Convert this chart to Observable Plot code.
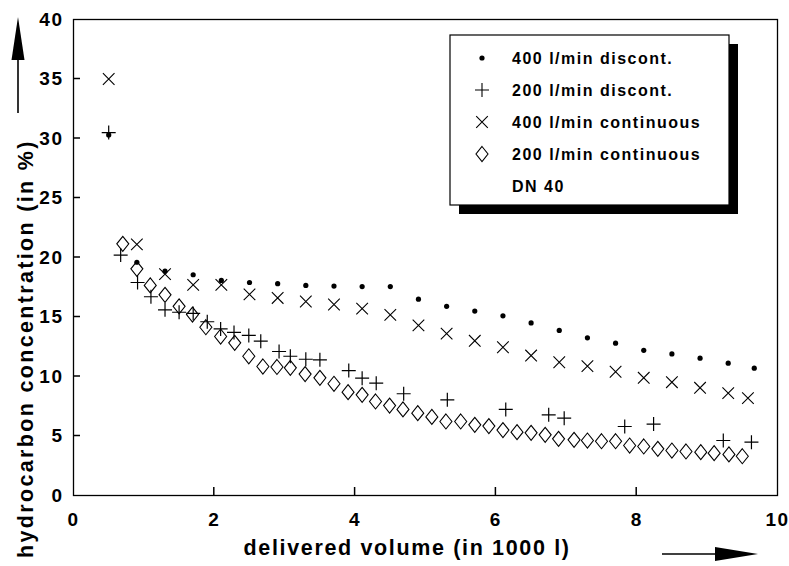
<!DOCTYPE html>
<html><head><meta charset="utf-8">
<script src="https://cdn.jsdelivr.net/npm/d3@7"></script>
<script src="https://cdn.jsdelivr.net/npm/@observablehq/plot@0.6"></script>
<style>
html,body{margin:0;padding:0;background:#fff}
svg{display:block}
svg text{letter-spacing:1.5px}
</style>
</head><body><div id="chart"></div>
<script>
// ---- data ----
const seriesNames = ["400 l/min discont.", "200 l/min discont.", "400 l/min continuous", "200 l/min continuous"];
const legendNote = "DN 40";

const disc400X = [0.5, 0.9, 1.3, 1.7, 2.1, 2.5, 2.9, 3.3, 3.7, 4.1, 4.5, 4.9, 5.3, 5.7, 6.1, 6.5, 6.9, 7.3, 7.7, 8.1, 8.5, 8.9, 9.3, 9.67];
const disc400Y = [30.3, 19.6, 18.85, 18.55, 18.07, 17.9, 17.8, 17.65, 17.6, 17.56, 17.56, 16.5, 15.9, 15.5, 15.1, 14.5, 13.87, 13.25, 12.8, 12.2, 11.9, 11.54, 11.12, 10.7];

const disc200X = [0.5, 0.67, 0.91, 1.1, 1.3, 1.5, 1.7, 1.9, 2.09, 2.28, 2.49, 2.66, 2.92, 3.08, 3.3, 3.5, 3.91, 4.1, 4.3, 4.69, 5.31, 6.14, 6.75, 6.97, 7.83, 8.24, 9.23, 9.63];
const disc200Y = [30.5, 20.2, 17.9, 16.7, 15.6, 15.4, 15.3, 14.6, 14.0, 13.7, 13.45, 12.97, 12.1, 11.7, 11.45, 11.4, 10.5, 9.86, 9.44, 8.55, 8.04, 7.23, 6.78, 6.5, 5.8, 6.0, 4.62, 4.48];

const cont400X = [0.5, 0.9, 1.3, 1.7, 2.1, 2.5, 2.9, 3.3, 3.7, 4.1, 4.5, 4.9, 5.3, 5.7, 6.1, 6.5, 6.9, 7.3, 7.7, 8.1, 8.5, 8.9, 9.3, 9.58];
const cont400Y = [35.0, 21.1, 18.6, 17.7, 17.7, 16.9, 16.6, 16.3, 16.05, 15.7, 15.18, 14.3, 13.6, 13.0, 12.46, 11.76, 11.2, 10.87, 10.4, 9.89, 9.52, 9.05, 8.6, 8.18];

const cont200X = [0.7, 0.9, 1.09, 1.3, 1.5, 1.69, 1.88, 2.09, 2.29, 2.49, 2.69, 2.89, 3.08, 3.29, 3.5, 3.7, 3.9, 4.1, 4.29, 4.49, 4.68, 4.89, 5.09, 5.29, 5.5, 5.7, 5.9, 6.1, 6.3, 6.5, 6.7, 6.89, 7.11, 7.3, 7.5, 7.7, 7.9, 8.1, 8.3, 8.5, 8.7, 8.91, 9.1, 9.31, 9.5];
const cont200Y = [21.15, 19.05, 17.65, 16.86, 15.9, 15.2, 14.14, 13.36, 12.83, 11.7, 10.84, 10.8, 10.73, 10.2, 9.89, 9.39, 8.68, 8.46, 7.9, 7.56, 7.23, 6.92, 6.6, 6.22, 6.22, 5.94, 5.83, 5.5, 5.32, 5.27, 5.1, 4.76, 4.68, 4.62, 4.56, 4.56, 4.2, 4.12, 3.92, 3.78, 3.7, 3.64, 3.56, 3.45, 3.3];

const xTicks = [0, 2, 4, 6, 8, 10];
const yTicks = [0, 5, 10, 15, 20, 25, 30, 35, 40];
const xTitle = "delivered volume (in 1000 l)";
const yTitle = "hydrocarbon concentration (in %)";

// ---- symbols ----
const symSquare = {draw(c) { c.arc(0, 0, 2.6, 0, 2 * Math.PI); }};
const symPlus = {draw(c) { c.moveTo(-7, 0); c.lineTo(7, 0); c.moveTo(0, -7); c.lineTo(0, 7); }};
const symTimes = {draw(c) { c.moveTo(-5.8, -5.8); c.lineTo(5.8, 5.8); c.moveTo(-5.8, 5.8); c.lineTo(5.8, -5.8); }};
const symDiamond = {draw(c) { c.moveTo(0, -7.5); c.lineTo(6, 0); c.lineTo(0, 7.5); c.lineTo(-6, 0); c.closePath(); }};

const zip = (xs, ys) => xs.map((x, i) => ({x, y: ys[i]}));
const d400 = zip(disc400X, disc400Y);
const d200 = zip(disc200X, disc200Y);
const c400 = zip(cont400X, cont400Y);
const c200 = zip(cont200X, cont200Y);

const FONT = "'Liberation Sans', Arial, Helvetica, sans-serif";

const chart = Plot.plot({
  width: 789,
  height: 566,
  marginLeft: 73,
  marginRight: 12,
  marginTop: 19,
  marginBottom: 71,
  style: {fontFamily: FONT, fontWeight: "bold", background: "#fff", color: "#000", overflow: "visible"},
  x: {domain: [0, 10]},
  y: {domain: [0, 40]},
  marks: [
    Plot.frame({stroke: "#000", strokeWidth: 1.3}),
    Plot.axisX({ticks: xTicks, tickSize: 0, tickPadding: 17, label: null}),
    Plot.axisY({ticks: yTicks, tickSize: 0, tickPadding: 10, label: null}),
    Plot.dot(c200, {x: "x", y: "y", symbol: symDiamond, r: 1, fill: "none", stroke: "#000", strokeWidth: 1.1}),
    Plot.dot(d200, {x: "x", y: "y", symbol: symPlus, r: 1, fill: "none", stroke: "#000", strokeWidth: 1.2}),
    Plot.dot(c400, {x: "x", y: "y", symbol: symTimes, r: 1, fill: "none", stroke: "#000", strokeWidth: 1.1}),
    Plot.dot(d400, {x: "x", y: "y", symbol: symSquare, r: 1, fill: "#000", stroke: "none"})
  ]
});

document.getElementById("chart").appendChild(chart);

const svg = d3.select(chart);
// larger tick labels
svg.selectAll('g[aria-label="x-axis tick label"], g[aria-label="y-axis tick label"]')
  .attr("font-size", 19).style("font-size", "19px");

// inward tick marks positioned with Plot's own scales
const sx = chart.scale("x"), sy = chart.scale("y");
const tg = svg.append("g").attr("stroke", "#000").attr("stroke-width", 1.5);
xTicks.slice(1, -1).forEach(v => {
  const px = sx.apply(v), py = sy.apply(0);
  tg.append("line").attr("x1", px).attr("x2", px).attr("y1", py).attr("y2", py - 8);
});
yTicks.slice(1, -1).forEach(v => {
  const px = sx.apply(0), py = sy.apply(v);
  tg.append("line").attr("x1", px).attr("x2", px + 7).attr("y1", py).attr("y2", py);
});

// ---- decorations: axis titles, arrows, legend ----
const g = svg.append("g").attr("font-family", FONT).attr("font-weight", "bold").attr("fill", "#000");

g.append("text")
  .attr("x", 407).attr("y", 555)
  .attr("text-anchor", "middle")
  .attr("font-size", 21.5)
  .attr("textLength", 327).attr("lengthAdjust", "spacing")
  .text(xTitle);

g.append("text")
  .attr("transform", "translate(33,349) rotate(-90)")
  .attr("text-anchor", "middle")
  .attr("font-size", 21.5)
  .attr("textLength", 418).attr("lengthAdjust", "spacing")
  .text(yTitle);

// up arrow
g.append("line").attr("x1", 18).attr("x2", 18).attr("y1", 113).attr("y2", 55).attr("stroke", "#000").attr("stroke-width", 1.6);
g.append("path").attr("d", "M11.5,60 L24.5,60 L18,17 Z").attr("fill", "#000");
// right arrow
g.append("line").attr("x1", 662).attr("x2", 720).attr("y1", 554).attr("y2", 554).attr("stroke", "#000").attr("stroke-width", 1.6);
g.append("path").attr("d", "M715,547 L715,561 L758,554 Z").attr("fill", "#000");

// legend box with shadow
const lg = g.append("g");
lg.append("rect").attr("x", 459).attr("y", 44).attr("width", 279).attr("height", 170).attr("fill", "#000");
lg.append("rect").attr("x", 450).attr("y", 35).attr("width", 279).attr("height", 170).attr("fill", "#fff").attr("stroke", "#000").attr("stroke-width", 1.2);

const legendSyms = [symSquare, symPlus, symTimes, symDiamond];
const rowY = [58, 90, 122, 154];
seriesNames.forEach((name, i) => {
  const p = d3.path();
  legendSyms[i].draw(p);
  lg.append("path")
    .attr("transform", `translate(482,${rowY[i]})`)
    .attr("d", p.toString())
    .attr("fill", i === 0 ? "#000" : "none")
    .attr("stroke", i === 0 ? "none" : "#000")
    .attr("stroke-width", 1.1);
  lg.append("text")
    .attr("x", 512).attr("y", rowY[i]).attr("dy", "0.36em")
    .attr("text-anchor", "start")
    .attr("font-size", 16)
    .text(name);
});
lg.append("text")
  .attr("x", 512).attr("y", 186).attr("dy", "0.36em")
  .attr("text-anchor", "start")
  .attr("font-size", 16)
  .text(legendNote);
</script>
</body></html>
